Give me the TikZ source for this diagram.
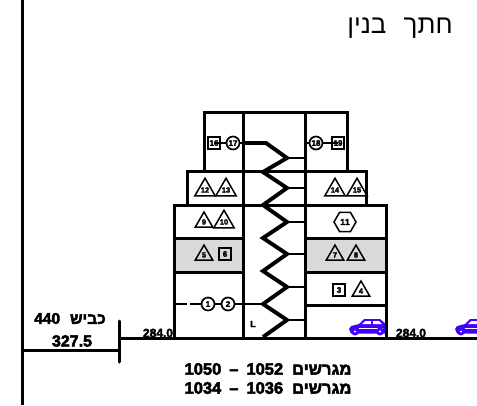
\documentclass[tikz,border=0pt]{standalone}
\usepackage{fontspec}
\usepackage{xcolor}
\usetikzlibrary{shapes.geometric}
\setmainfont{Liberation Sans}
\newfontfamily\hebfont[Script=Hebrew]{Liberation Sans}
\newfontfamily\heavyfont[Script=Hebrew,FakeBold=3]{Liberation Sans Bold}
\TeXXeTstate=1
\definecolor{floorgrey}{HTML}{D9D9D9}
\definecolor{carblue}{HTML}{4400FF}
\newcommand{\heb}[1]{\beginR #1\endR}
\newcommand{\caricon}[2]{%
	\begin{scope}[shift={(#1,#2)},carblue]
		\fill (0,10) -- (2,7) -- (10,5) -- (15,0) -- (31,0) -- (37,5) -- (38,12) -- (36,14.5) -- (2,14.5) -- cycle;
		\fill[white] (16.5,2) -- (22,2) -- (22,5) -- (13,5) -- cycle;
		\fill[white] (24,2) -- (30,2) -- (33,5) -- (24,5) -- cycle;
		\draw[white,line width=0.6] (10,9.5) -- (34,9.5);
		\fill (6,12.5) circle (4);
		\fill (31,12.5) circle (4);
		\fill[white] (6,12.5) circle (1.2);
		\fill[white] (31,12.5) circle (1.2);
	\end{scope}}
\tikzset{
	wall/.style={line width=3},
	stub/.style={line width=2.6},
	zig/.style={line width=3.9},
	tri/.style={regular polygon,regular polygon sides=3,draw,line width=1.5,inner sep=0,minimum size=20,font=\heavyfont\fontsize{7.5}{8}\selectfont},
	sq/.style={rectangle,draw,line width=1.6,minimum size=12,inner sep=0,font=\heavyfont\fontsize{8}{8}\selectfont},
	circ/.style={circle,draw,fill=white,line width=1.7,minimum size=13,inner sep=0,font=\heavyfont\fontsize{8}{8}\selectfont},
	hexa/.style={regular polygon,regular polygon sides=6,draw,line width=1.5,minimum size=22,inner sep=0,font=\heavyfont\fontsize{8.5}{8.5}\selectfont},
	level/.style={font=\heavyfont\fontsize{12}{12}\selectfont,inner sep=0},
	lot/.style={font=\heavyfont\fontsize{16.5}{17}\selectfont,inner sep=0}
}
\begin{document}
\begin{tikzpicture}[x=1pt,y=-1pt]
	\clip (0,0) rectangle (477,405);
	\fill[white] (0,0) rectangle (477,405);

	% grey floors
	\fill[floorgrey] (175,239) rectangle (243,271);
	\fill[floorgrey] (305,239) rectangle (386,271);

	% cars stand behind the walls
	\caricon{349}{319}
	\caricon{455}{319}

	% street and ground
	\draw[wall] (22,0) -- (22,405);
	\draw[wall] (22,350) -- (119,350);
	\draw[wall,line cap=round] (119,321) -- (119,362);
	\draw[wall] (119,338) -- (477,338);
	\node[level,font=\heavyfont\fontsize{15.5}{16}\selectfont] (road) at (70,318.5) {440\hspace{10pt}\heb{כביש}};
	\node[level,font=\heavyfont\fontsize{16}{16}\selectfont] (roadlevel) at (72,341) {327.5};

	% building outline
	\draw[wall] (204,171) -- (204,112) -- (347,112) -- (347,171);
	\draw[wall] (187,205) -- (187,171) -- (366,171) -- (366,205);
	\draw[wall] (174,338) -- (174,205) -- (386,205) -- (386,338);
	\draw[wall] (243,112) -- (243,338);
	\draw[wall] (305,112) -- (305,338);
	\draw[wall] (174,238) -- (243,238) (305,238) -- (386,238);
	\draw[wall] (174,272) -- (243,272) (305,272) -- (386,272);
	\draw[wall] (305,305) -- (386,305);

	% stairs
	\draw[zig] (243,143) -- (266,143) -- (287,158) -- (263,172) -- (287,188) -- (263,205)
		-- (287,222) -- (263,238) -- (287,254) -- (263,271) -- (287,287) -- (263,304)
		-- (287,320) -- (263,337);
	\foreach \y in {158,188,222,254,287,320}
		\draw[stub] (287,\y) -- (305,\y);

	% top floor
	\draw[stub] (243,143) -- (214,143);
	\node[sq] (s16) at (214,143) {16};
	\node[circ] (c17) at (233,143) {17};
	\draw[stub] (305,143) -- (338,143);
	\node[circ] (c18) at (316,143) {18};
	\node[sq] (s19) at (338,143) {19};

	% floors
	\node[tri] (t12) at (205,190) {12};
	\node[tri] (t13) at (226,190) {13};
	\node[tri] (t14) at (335,190) {14};
	\node[tri] (t15) at (357,190) {15};
	\node[tri] (t9) at (204,222) {9};
	\node[tri] (t10) at (224,222) {10};
	\node[hexa] (h11) at (345,222) {11};
	\node[tri] (t5) at (204,255) {5};
	\node[sq] (s6) at (225,254) {6};
	\node[tri] (t7) at (335,255) {7};
	\node[tri] (t8) at (356,255) {8};
	\node[sq] (s3) at (339,290) {3};
	\node[tri] (t4) at (361,291) {4};

	% bottom floor
	\draw[stub] (174,304) -- (187,304);
	\draw[stub] (190,304) -- (262,304);
	\node[circ] (c1) at (208,304) {1};
	\node[circ] (c2) at (228,304) {2};
	\node[font=\heavyfont\fontsize{9}{9}\selectfont,inner sep=0] (lift) at (253,324) {L};

	% levels and lots
	\node[level] (lev1) at (158,333) {284.0};
	\node[level] (lev2) at (411,333) {284.0};
	\node[lot] (lota) at (268,369) {1050\hspace{8pt}–\hspace{8pt}1052\hspace{9pt}\heb{מגרשים}};
	\node[lot] (lotb) at (268,388) {1034\hspace{8pt}–\hspace{8pt}1036\hspace{9pt}\heb{מגרשים}};
	\node[font=\hebfont\fontsize{26}{26}\selectfont,inner sep=0] (title) at (400,28) {\heb{חתך\hspace{10pt} בנין}};
\end{tikzpicture}
\end{document}
